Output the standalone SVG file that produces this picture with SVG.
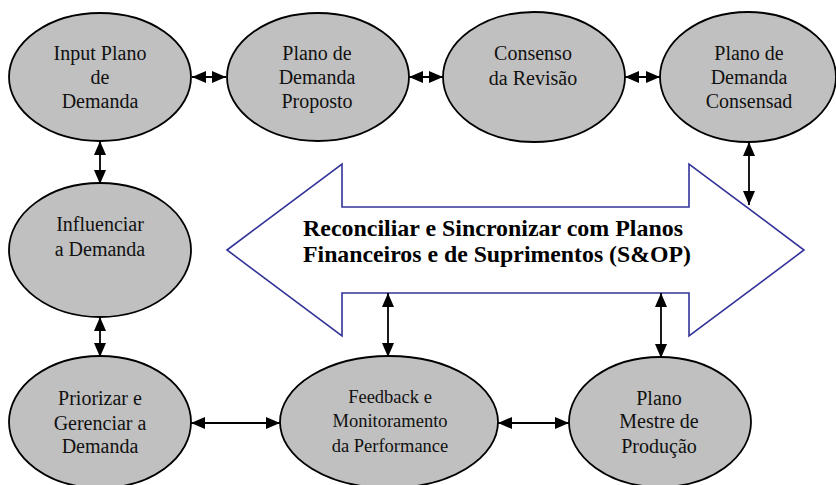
<svg xmlns="http://www.w3.org/2000/svg" width="836" height="485" viewBox="0 0 836 485">
<style>
.node ellipse{fill:#c0c0c0;stroke:#000;stroke-width:1.8}
.node text{font-family:"Liberation Serif","Times New Roman",serif;font-size:20px;fill:#111;text-anchor:middle}
.node.small text{font-size:18.5px}
.conn line{stroke:#000;stroke-width:1.8;marker-start:url(#ah);marker-end:url(#ah)}
.big{fill:#fff;stroke:#333399;stroke-width:1.6}
.bigtext{font-family:"Liberation Serif","Times New Roman",serif;font-size:23px;font-weight:bold;fill:#000}
</style>
<defs>
<marker id="ah" markerUnits="userSpaceOnUse" markerWidth="14" markerHeight="12" refX="14" refY="6" orient="auto-start-reverse">
<path d="M0,0 L14,6 L0,12 z" fill="#000"/>
</marker>
</defs>
<rect width="836" height="485" fill="#fff"/>
<g id="sop">
<path class="big" d="M227,250 L342,164 L342,207 L689,207 L689,164 L804,250 L689,336 L689,293 L342,293 L342,336 Z"/>
<text class="bigtext" x="303" y="236" textLength="380" lengthAdjust="spacingAndGlyphs">Reconciliar e Sincronizar com Planos</text>
<text class="bigtext" x="303" y="262" textLength="388" lengthAdjust="spacingAndGlyphs">Financeiros e de Suprimentos (S&amp;OP)</text>
</g>
<g id="n1" class="node"><ellipse cx="100" cy="77" rx="91" ry="64"/><text x="100" y="60">Input Plano</text><text x="100" y="84">de</text><text x="100" y="108">Demanda</text></g>
<g id="n2" class="node"><ellipse cx="318" cy="77" rx="91" ry="64"/><text x="317" y="60">Plano de</text><text x="317" y="84">Demanda</text><text x="317" y="108">Proposto</text></g>
<g id="n3" class="node"><ellipse cx="534" cy="77" rx="91" ry="65"/><text x="533" y="60">Consenso</text><text x="533" y="85">da Revisão</text></g>
<g id="n4" class="node"><ellipse cx="748" cy="77" rx="88" ry="65"/><text x="749" y="60">Plano de</text><text x="749" y="84">Demanda</text><text x="749" y="108">Consensad</text></g>
<g id="n5" class="node"><ellipse cx="100" cy="250" rx="91" ry="67"/><text x="100" y="231">Influenciar</text><text x="100" y="256">a Demanda</text></g>
<g id="n6" class="node"><ellipse cx="100" cy="422" rx="91" ry="66"/><text x="100" y="405">Priorizar e</text><text x="100" y="430">Gerenciar a</text><text x="100" y="453">Demanda</text></g>
<g id="n7" class="node small"><ellipse cx="389" cy="422" rx="109" ry="66"/><text x="390" y="403">Feedback e</text><text x="390" y="427">Monitoramento</text><text x="390" y="452">da Performance</text></g>
<g id="n8" class="node"><ellipse cx="660" cy="422" rx="91" ry="65"/><text x="659" y="405">Plano</text><text x="659" y="428">Mestre de</text><text x="659" y="453">Produção</text></g>
<g id="connectors" class="conn">
<line x1="192" y1="77" x2="226" y2="77"/>
<line x1="409" y1="77" x2="443" y2="77"/>
<line x1="625" y1="77" x2="660" y2="77"/>
<line x1="100" y1="141" x2="100" y2="184"/>
<line x1="100" y1="317" x2="100" y2="357"/>
<line x1="749" y1="142" x2="749" y2="205"/>
<line x1="388" y1="293" x2="388" y2="357"/>
<line x1="661" y1="293" x2="661" y2="358"/>
<line x1="191" y1="423" x2="280" y2="423"/>
<line x1="498" y1="423" x2="569" y2="423"/>
</g>
</svg>
